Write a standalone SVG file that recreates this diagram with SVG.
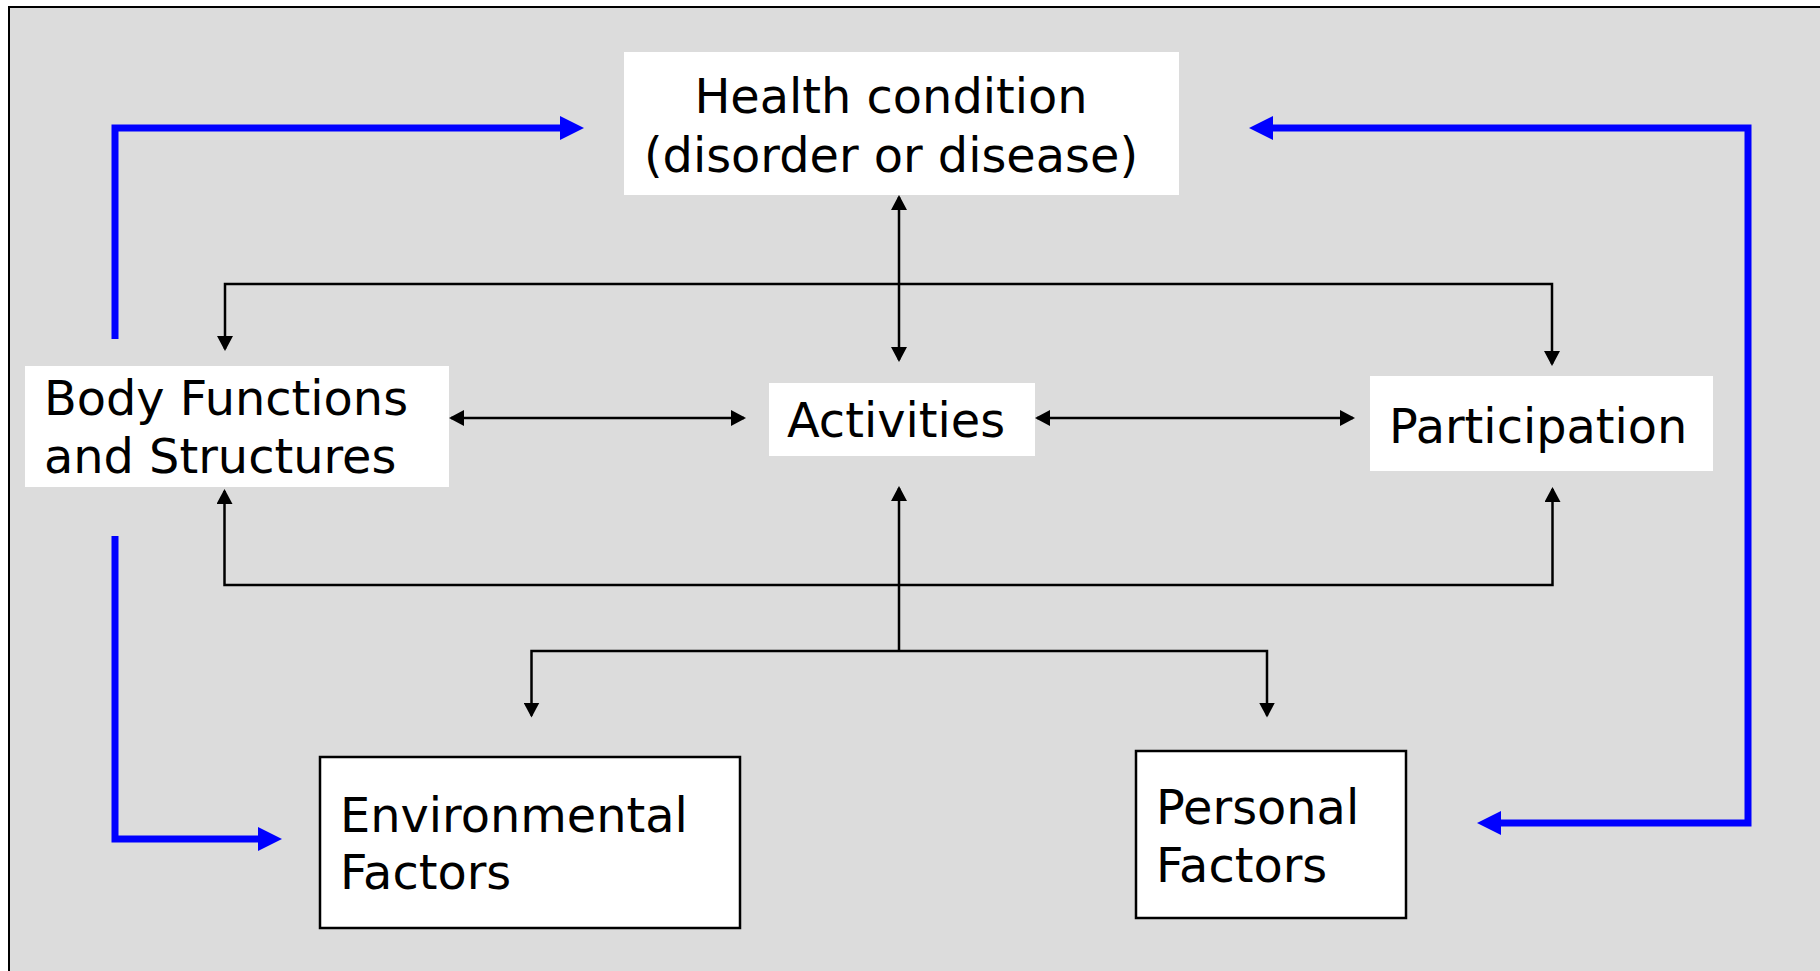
<svg xmlns="http://www.w3.org/2000/svg" width="1820" height="971" viewBox="0 0 1820 971">
<style>
.lbl{font-family:"DejaVu Sans","Verdana",sans-serif;font-size:47.8px;fill:#000}
.box{fill:#fff}
.bbox{fill:#fff;stroke:#000;stroke-width:2.5}
.conn{fill:none;stroke:#000;stroke-width:2.5}
.blue{fill:none;stroke:#0000ff;stroke-width:7;stroke-linejoin:miter}
</style>
<defs>
<marker id="ah" viewBox="0 0 15 16" refX="13" refY="8" markerWidth="15" markerHeight="16" markerUnits="userSpaceOnUse" orient="auto-start-reverse">
<path d="M0,0 L15,8 L0,16 z" fill="#000"/>
</marker>
<marker id="bh" viewBox="0 0 24 24" refX="16" refY="12" markerWidth="24" markerHeight="24" markerUnits="userSpaceOnUse" orient="auto-start-reverse">
<path d="M0,0 L24,12 L0,24 z" fill="#0000ff"/>
</marker>
</defs>
<rect x="0" y="0" width="1820" height="971" fill="#fff"/>
<rect x="9" y="7" width="1840" height="1000" fill="#dcdcdc" stroke="#000" stroke-width="2"/>
<g id="connectors">
<path class="blue" d="M115,339 V128 H576" marker-end="url(#bh)"/>
<path class="blue" d="M1257,128 H1748 V823 H1485" marker-start="url(#bh)" marker-end="url(#bh)"/>
<path class="blue" d="M115,536 V839 H274" marker-end="url(#bh)"/>
<path class="conn" d="M899,197 V360" marker-start="url(#ah)" marker-end="url(#ah)"/>
<path class="conn" d="M225,349 V284 H1552 V364" marker-start="url(#ah)" marker-end="url(#ah)"/>
<path class="conn" d="M451,418 H744" marker-start="url(#ah)" marker-end="url(#ah)"/>
<path class="conn" d="M1037,418 H1353" marker-start="url(#ah)" marker-end="url(#ah)"/>
<path class="conn" d="M224.5,491 V585 H1552.5 V489" marker-start="url(#ah)" marker-end="url(#ah)"/>
<path class="conn" d="M899,651 V488" marker-end="url(#ah)"/>
<path class="conn" d="M531.5,715.5 V651 H1267 V715.5" marker-start="url(#ah)" marker-end="url(#ah)"/>
</g>
<g id="health">
<rect class="box" x="624" y="52" width="555" height="143"/>
<text class="lbl" x="891" y="113" text-anchor="middle">Health condition</text>
<text class="lbl" x="891" y="172" text-anchor="middle">(disorder or disease)</text>
</g>
<g id="body">
<rect class="box" x="25" y="366" width="424" height="121"/>
<text class="lbl" x="44" y="415">Body Functions</text>
<text class="lbl" x="44" y="473">and Structures</text>
</g>
<g id="activities">
<rect class="box" x="769" y="383" width="266" height="73"/>
<text class="lbl" x="787" y="437">Activities</text>
</g>
<g id="participation">
<rect class="box" x="1370" y="376" width="343" height="95"/>
<text class="lbl" x="1389" y="443">Participation</text>
</g>
<g id="environmental">
<rect class="bbox" x="320" y="757" width="420" height="171"/>
<text class="lbl" x="340" y="832">Environmental</text>
<text class="lbl" x="340" y="889">Factors</text>
</g>
<g id="personal">
<rect class="bbox" x="1136" y="751" width="270" height="167"/>
<text class="lbl" x="1156" y="824">Personal</text>
<text class="lbl" x="1156" y="882">Factors</text>
</g>
</svg>
